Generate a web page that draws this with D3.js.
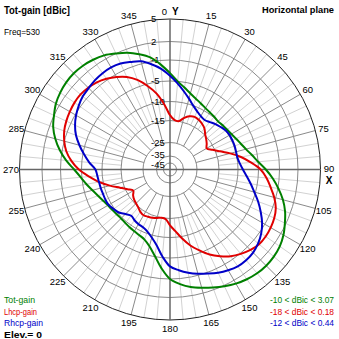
<!DOCTYPE html>
<html><head><meta charset="utf-8">
<script src="https://cdn.jsdelivr.net/npm/d3@7"></script>
<style>
html,body{margin:0;padding:0;background:#fff;}
svg{display:block;}
text{font-family:'Liberation Sans',Arial,sans-serif;}
</style></head>
<body>
<script>
// ---- data ----
const angles = d3.range(0, 360, 5);
const totGain = [-3.5,-5.0,-6.3,-7.4,-8.2,-8.8,-9.3,-9.6,-9.8,-10.0,-9.8,-9.6,-9.3,-8.8,-8.2,-7.4,-6.3,-5.0,
  -3.6,-2.2,-0.9,0.2,1.1,1.8,2.4,2.8,3.0,3.07,3.0,2.8,2.5,2.1,1.6,1.1,0.6,-0.1,
  -1.0,-3.0,-5.2,-7.2,-8.4,-8.9,-9.2,-9.4,-9.6,-9.7,-9.6,-9.4,-9.1,-8.6,-7.9,-7.0,-5.9,-4.8,
  -3.6,-2.0,-0.6,0.5,1.4,2.0,2.5,2.8,3.0,3.07,3.0,2.8,2.5,2.0,1.4,0.6,-0.3,-1.8];
const lhcpGain = [-13.6,-14.8,-15.0,-13.9,-13.0,-12.6,-12.8,-13.2,-13.8,-14.8,-15.8,-16.9,-18.0,-16.0,-13.9,-11.5,-9.0,-6.8,
  -4.6,-3.4,-2.4,-1.3,-0.5,-0.1,0.1,0.18,0.1,-0.3,-0.9,-1.7,-2.8,-4.0,-5.6,-7.4,-9.5,-11.6,
  -13.2,-14.8,-15.0,-14.7,-14.4,-14.2,-14.0,-14.3,-14.9,-15.5,-16.0,-16.8,-18.0,-16.0,-13.9,-11.5,-9.0,-6.8,
  -4.5,-3.0,-1.8,-1.0,-0.5,-0.2,0.0,0.15,0.18,0.0,-0.3,-0.8,-1.5,-2.4,-3.7,-5.5,-7.8,-10.7];
const rhcpGain = [-4.0,-5.5,-7.2,-8.7,-10.0,-11.0,-11.7,-12.0,-11.6,-11.0,-10.5,-10.0,-9.8,-9.8,-9.8,-9.9,-9.9,-9.5,
  -8.8,-7.8,-6.6,-5.3,-4.0,-2.8,-1.6,-0.7,-0.1,0.3,0.44,0.4,0.1,-0.3,-0.8,-1.3,-1.9,-2.6,
  -3.4,-5.3,-7.8,-9.4,-10.5,-11.1,-11.3,-11.6,-12.0,-11.3,-10.3,-9.8,-9.3,-9.2,-9.2,-9.1,-9.0,-8.8,
  -8.4,-6.8,-5.3,-4.0,-2.8,-1.9,-1.2,-0.7,-0.3,-0.1,0.15,0.3,0.35,0.2,-0.2,-0.6,-1.5,-2.6];
const ringLevels = [5, 2, -1, -5, -10, -15, -25, -35, -45];
const angleLabels = d3.range(0, 360, 15);
const seriesNames = ["Tot-gain", "Lhcp-gain", "Rhcp-gain"];
const rangeTexts = ["-10 < dBic < 3.07", "-18 < dBic < 0.18", "-12 < dBic < 0.44"];
const colors = ["#008000", "#e00000", "#0000c8"];

// ---- chart ----
const W = 339, H = 339, cx = 170, cy = 169.5;
const r = d3.scaleLinear()
  .domain([-45, -35, -25, -15, -10, -5, -1, 2, 5])
  .range([6.5, 13.5, 27, 49, 68, 88.5, 109.5, 128, 150.5])
  .clamp(true);
const R = r(5);
const rad = d => d * Math.PI / 180;

const svg = d3.select("body").append("svg").attr("width", W).attr("height", H);
const g = svg.append("g").attr("transform", `translate(${cx},${cy})`);

// light 5-degree spokes
const minor = d3.range(0, 360, 5).filter(a => a % 15 !== 0);
g.selectAll("line.minor").data(minor).join("line")
  .attr("x1", a => r(-15) * Math.sin(rad(a))).attr("y1", a => -r(-15) * Math.cos(rad(a)))
  .attr("x2", a => R * Math.sin(rad(a))).attr("y2", a => -R * Math.cos(rad(a)))
  .attr("stroke", "#d2d2d2").attr("stroke-width", 1);
// 15-degree spokes
const major = d3.range(0, 360, 15).filter(a => a % 90 !== 0);
g.selectAll("line.major").data(major).join("line")
  .attr("x1", a => r(-25) * Math.sin(rad(a))).attr("y1", a => -r(-25) * Math.cos(rad(a)))
  .attr("x2", a => R * Math.sin(rad(a))).attr("y2", a => -R * Math.cos(rad(a)))
  .attr("stroke", "#8a8a8a").attr("stroke-width", 1);
// rings
g.selectAll("circle.ring").data(ringLevels.slice(1)).join("circle")
  .attr("r", d => r(d)).attr("fill", "none").attr("stroke", "#8a8a8a").attr("stroke-width", 1);
g.append("circle").attr("r", R).attr("fill", "none").attr("stroke", "#222").attr("stroke-width", 1);
// main axes
g.append("line").attr("x1", 0).attr("x2", 0).attr("y1", -R).attr("y2", R).attr("stroke", "#666").attr("stroke-width", 1.5);
g.append("line").attr("y1", 0).attr("y2", 0).attr("x1", -R).attr("x2", R).attr("stroke", "#666").attr("stroke-width", 1.5);

// ring labels
const labelY = d => d === -45 ? -4.5 : d === -35 ? -14.5 : -r(d);
g.selectAll("text.rl").data(ringLevels).join("text")
  .attr("x", -19).attr("y", labelY)
  .attr("dy", "0.35em").attr("font-size", 9.5).attr("fill", "#000")
  .text(d => d);

// angle labels
const LR = 159;
g.selectAll("text.al").data(angleLabels.filter(a => a !== 0)).join("text")
  .attr("x", a => LR * Math.sin(rad(a))).attr("y", a => -LR * Math.cos(rad(a)) + (a === 90 ? -1 : 0))
  .attr("dy", "0.35em").attr("text-anchor", "middle").attr("font-size", 9.5)
  .text(a => a);
g.append("text").attr("x", -3).attr("y", -158).attr("dy", "0.35em").attr("text-anchor", "end").attr("font-size", 9.5).text("0");
g.append("text").attr("x", 2).attr("y", -158).attr("dy", "0.35em").attr("font-size", 10).attr("font-weight", "bold").text("Y");
g.append("text").attr("x", 159).attr("y", 10.5).attr("dy", "0.35em").attr("text-anchor", "middle").attr("font-size", 10).attr("font-weight", "bold").text("X");

// curves
const line = d3.lineRadial()
  .angle((d, i) => rad(angles[i]))
  .radius(d => r(d))
  .curve(d3.curveCatmullRomClosed.alpha(0.5));
[totGain, lhcpGain, rhcpGain].forEach((s, k) => {
  g.append("path").attr("d", line(s)).attr("fill", "none")
    .attr("stroke", colors[k]).attr("stroke-width", 2);
});

// texts
const fit = "spacingAndGlyphs";
svg.append("text").attr("x", 4).attr("y", 14).attr("font-size", 10).attr("font-weight", "bold")
  .attr("textLength", 66).attr("lengthAdjust", fit).text("Tot-gain [dBic]");
svg.append("text").attr("x", 4).attr("y", 35).attr("font-size", 9.5)
  .attr("textLength", 36).attr("lengthAdjust", fit).text("Freq=530");
svg.append("text").attr("x", 262).attr("y", 13).attr("font-size", 9.3).attr("font-weight", "bold")
  .attr("textLength", 72).attr("lengthAdjust", fit).text("Horizontal plane");
const legW = [31, 33, 39];
seriesNames.forEach((n, k) => {
  svg.append("text").attr("x", 4).attr("y", 303 + k * 11.7).attr("font-size", 9.5).attr("fill", colors[k])
    .attr("textLength", legW[k]).attr("lengthAdjust", fit).text(n);
  svg.append("text").attr("x", 270).attr("y", 303 + k * 11.7).attr("font-size", 8.5).attr("fill", colors[k])
    .attr("textLength", 64).attr("lengthAdjust", fit).text(rangeTexts[k]);
});
svg.append("text").attr("x", 4).attr("y", 338).attr("font-size", 9.5).attr("font-weight", "bold")
  .attr("textLength", 38).attr("lengthAdjust", fit).text("Elev.= 0");
</script>
</body></html>
